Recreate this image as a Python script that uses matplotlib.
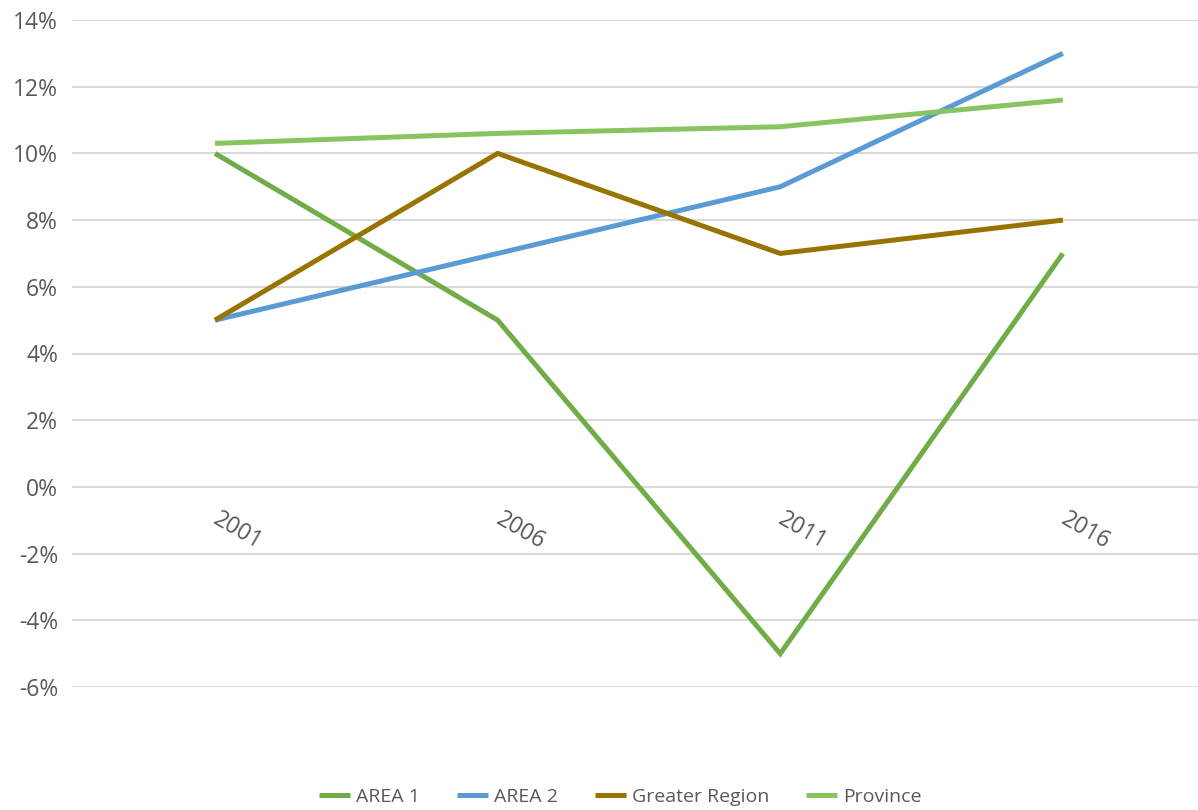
import matplotlib.pyplot as plt
from matplotlib.ticker import FuncFormatter

plt.rcParams['font.family'] = ['Open Sans', 'DejaVu Sans']

# Growth rates (%) by census year
years = ['2001', '2006', '2011', '2016']
area1 = [10, 5, -5, 7]
area2 = [5, 7, 9, 13]
greater_region = [5, 10, 7, 8]
province = [10.3, 10.6, 10.8, 11.6]

series = [
    ('AREA 1', area1, '#70AD47'),
    ('AREA 2', area2, '#5B9BD5'),
    ('Greater Region', greater_region, '#997300'),
    ('Province', province, '#88C562'),
]

fig = plt.figure(figsize=(11.98, 8.10), dpi=100)
ax = fig.add_axes([72 / 1198, 123 / 810, 1 - 72 / 1198, 667 / 810])

# category axis sits on the zero line, as in a spreadsheet chart
ax.spines['bottom'].set_position(('data', 0))
for side in ['top', 'right', 'left', 'bottom']:
    ax.spines[side].set_visible(False)

x = range(len(years))
for name, vals, color in series:
    ax.plot(x, vals, color=color, linewidth=3.6, label=name,
            solid_capstyle='butt', solid_joinstyle='miter', zorder=3)

ax.set_ylim(-6, 14)
ax.set_yticks(range(-6, 15, 2))
ax.yaxis.set_major_formatter(FuncFormatter(lambda v, p: f'{v:.0f}%'))
ax.set_xlim(-0.506, 3.478)
ax.set_xticks(list(x))

ax.tick_params(axis='both', length=0, labelsize=16.5, labelcolor='#595959')
ax.tick_params(axis='x', pad=22)
ax.tick_params(axis='y', pad=10)
ax.set_xticklabels(years, rotation=-30, ha='left', va='center',
                   rotation_mode='anchor')

ax.grid(axis='y', color='#D9D9D9', linewidth=1.5, zorder=0)
ax.set_axisbelow(True)

leg = fig.legend(loc='center', bbox_to_anchor=(0.518, 1 - 797 / 810), ncol=4,
                 frameon=False, fontsize=14, handlelength=1.6,
                 columnspacing=1.9, handletextpad=0.3)
for t in leg.get_texts():
    t.set_color('#595959')

fig.savefig('out.png', dpi=100)
